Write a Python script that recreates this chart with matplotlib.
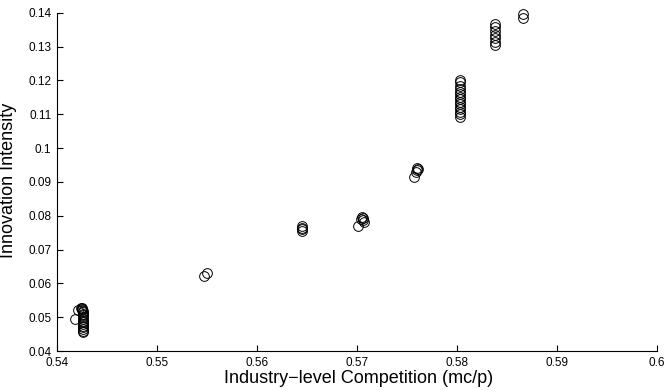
import matplotlib
matplotlib.use("Agg")
import matplotlib.pyplot as plt

# Industry-level competition (mc/p) vs innovation intensity
comp = [
    0.5418, 0.5421, 0.5424, 0.5425, 0.5425, 0.5425, 0.5426, 0.5426, 0.5426,
    0.5426, 0.5426, 0.5426, 0.5426, 0.5426, 0.5426, 0.5426, 0.5426, 0.5426,
    0.5426, 0.5426,
    0.5547, 0.5550,
    0.5645, 0.5645, 0.5645, 0.5645,
    0.5701, 0.5704, 0.5705, 0.5706, 0.5706, 0.5707,
    0.5757, 0.5759, 0.5760, 0.5760, 0.5761,
    0.5803, 0.5803, 0.5803, 0.5803, 0.5803, 0.5803, 0.5803, 0.5803,
    0.5803, 0.5803, 0.5803, 0.5803, 0.5803, 0.5803, 0.5803,
    0.5838, 0.5838, 0.5838, 0.5838, 0.5838, 0.5838, 0.5838,
    0.5866, 0.5866,
]
innov = [
    0.0494, 0.0520, 0.0527, 0.0528, 0.0525, 0.0522, 0.0518, 0.0514, 0.0510,
    0.0505, 0.0500, 0.0495, 0.0490, 0.0485, 0.0480, 0.0475, 0.0470, 0.0465,
    0.0460, 0.0455,
    0.0621, 0.0630,
    0.0755, 0.0760, 0.0765, 0.0771,
    0.0769, 0.0790, 0.0795, 0.0793, 0.0788, 0.0781,
    0.0915, 0.0930, 0.0935, 0.0940, 0.0937,
    0.1093, 0.1100, 0.1108, 0.1115, 0.1122, 0.1130, 0.1137, 0.1145,
    0.1152, 0.1160, 0.1167, 0.1175, 0.1185, 0.1195, 0.1202,
    0.1368, 0.1358, 0.1345, 0.1335, 0.1325, 0.1315, 0.1305,
    0.1397, 0.1386,
]
xticks = [0.54, 0.55, 0.56, 0.57, 0.58, 0.59, 0.60]
xtick_labels = ["0.54", "0.55", "0.56", "0.57", "0.58", "0.59", "0.6"]
yticks = [0.04, 0.05, 0.06, 0.07, 0.08, 0.09, 0.10, 0.11, 0.12, 0.13, 0.14]
ytick_labels = ["0.04", "0.05", "0.06", "0.07", "0.08", "0.09", "0.1",
                "0.11", "0.12", "0.13", "0.14"]

plt.rcParams["font.family"] = ["Liberation Sans", "DejaVu Sans"]

fig = plt.figure(figsize=(6.71, 3.9), dpi=100)
ax = fig.add_axes([0.085, 0.1, 0.894, 0.867])

ax.plot(comp, innov, linestyle="none", marker="o", markersize=7,
        markerfacecolor="none", markeredgecolor="black", markeredgewidth=0.7,
        clip_on=False)

ax.set_xlim(0.54, 0.60)
ax.set_ylim(0.04, 0.14)
ax.set_xticks(xticks)
ax.set_xticklabels(xtick_labels)
ax.set_yticks(yticks)
ax.set_yticklabels(ytick_labels)
ax.tick_params(direction="in", length=4, width=0.8, labelsize=8.5, pad=4)

ax.spines["top"].set_visible(False)
ax.spines["right"].set_visible(False)
ax.spines["left"].set_linewidth(0.8)
ax.spines["bottom"].set_linewidth(0.8)

ax.set_xlabel("Industry\u2212level Competition (mc/p)", fontsize=13)
ax.set_ylabel("Innovation Intensity", fontsize=13, va="center")
ax.xaxis.set_label_coords(0.503, -0.055)
ax.yaxis.set_label_coords(-0.081, 0.505)

fig.savefig("out.png", dpi=100)
plt.close(fig)
